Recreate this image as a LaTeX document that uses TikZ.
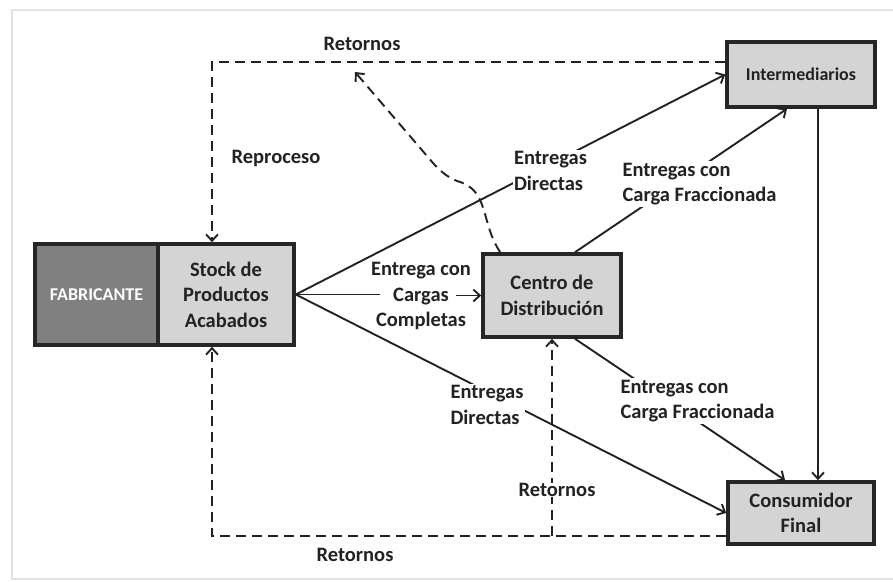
\documentclass[tikz,border=0pt]{standalone}
\usepackage{fontspec}
\setmainfont{Carlito}
\usetikzlibrary{arrows.meta}
\definecolor{boxline}{HTML}{262626}
\definecolor{boxfill}{HTML}{D4D4D4}
\definecolor{fabfill}{HTML}{808080}
\definecolor{lineclr}{HTML}{222222}
\definecolor{framecl}{HTML}{E2E2E2}
\begin{document}
\begin{tikzpicture}[x=1pt,y=-1pt,
  txt/.style={font=\bfseries\fontsize{20.5}{25.5}\selectfont},
  box/.style={txt, draw=boxline, line width=3.6pt, fill=boxfill, align=center, inner sep=0pt, text=lineclr},
  lbl/.style={txt, align=left, inner sep=1.5pt, text=lineclr},
  tip/.style={-{Straight Barb[length=6.5pt,width=12pt,line width=1.9pt]}},
  flow/.style={line width=1.9pt, draw=lineclr},
  ret/.style={line width=1.9pt, draw=lineclr, dash pattern=on 10pt off 6pt}]
\useasboundingbox (0,0) rectangle (893,581);
\draw[framecl, line width=2pt] (12,10) rectangle (897,579);

% boxes
\node[box, fill=fabfill, text=white, minimum width=123pt, minimum height=101pt,
      font=\bfseries\fontsize{18}{22}\selectfont] (fab) at (96.5,294.5) {FABRICANTE};
\node[box, minimum width=136pt, minimum height=101pt] (stock) at (226,294.5) {Stock de\\Productos\\Acabados};
\node[box, minimum width=148pt, minimum height=65pt,
      font=\bfseries\fontsize{18}{22}\selectfont] (inter) at (801,74.5) {Intermediarios};
\node[box, minimum width=138pt, minimum height=83pt] (centro) at (552,295.5) {Centro de\\Distribución};
\node[box, minimum width=146pt, minimum height=62pt] (cons) at (801,513) {Consumidor\\Final};

% return paths (dashed)
\coordinate (tl) at (212,62);
\coordinate (bl) at (212,536);
\coordinate (bm) at (552,536);
\coordinate (rt) at (355,72);
\draw[ret, tip] (inter.west |- tl) -- (tl) -- (tl |- stock.north);
\draw[ret, tip] (cons.west |- bl) -- (bl) -- (bl |- stock.south);
\draw[ret, tip] (bm) -- (centro.south);
\draw[ret, tip] ([xshift=19pt]centro.north west)
  .. controls (480,222) and (490,190) .. (457,181)
  .. controls (447,177) and (439,170) .. (433,163) -- (rt);

% deliveries (solid)
\draw[flow, tip] (stock.east) -- (inter.west);
\draw[flow, tip] (stock.east) -- (cons.west);
\draw[flow, tip] ([xshift=23pt]centro.north) -- ([xshift=-14pt]inter.south);
\draw[flow, tip] ([xshift=23pt]centro.south) -- ([xshift=-16pt]cons.north);
\draw[flow, tip] ([xshift=17pt]inter.south) -- ([xshift=17pt]cons.north);

\node[lbl, align=center] (ccl) at (421,296) {Entrega con\\Cargas\\Completas};
\draw[flow] (stock.east) -- ([xshift=11pt]ccl.west |- stock.east);
\draw[flow, tip] ([xshift=-17pt]ccl.east |- centro.west) -- (centro.west);

% labels
\node[lbl, fill=white] (ed1) at (550.5,171) {Entregas\\Directas};
\node[lbl, fill=white] (ed2) at (487,405) {Entregas\\Directas};
\node[lbl, fill=white] (ecf1) at (699.5,184) {Entregas con\\Carga Fraccionada};
\node[lbl, fill=white] (ecf2) at (697.5,401) {Entregas con\\Carga Fraccionada};
\node[lbl] (rtop) at (362,44) {Retornos};
\node[lbl] (rep) at (276,158) {Reproceso};
\node[lbl] (rbot) at (355,555) {Retornos};
\node[lbl, fill=white, inner sep=0.5pt] (rmid) at (557,490) {Retornos};
\end{tikzpicture}
\end{document}
